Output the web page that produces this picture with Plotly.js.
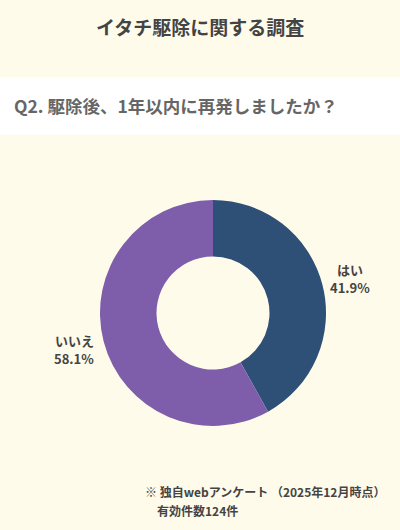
<!DOCTYPE html>
<html>
<head>
<meta charset="utf-8">
<script src="https://cdn.plot.ly/plotly-3.0.1.min.js"></script>
<style>
  html, body { margin: 0; padding: 0; background: #fffbeb; }
  #myDiv { width: 400px; height: 530px; }
</style>
</head>
<body>
<div id="myDiv"></div>
<script>
const answers = ['はい', 'いいえ']
const shares = [41.9, 58.1]
const sliceColors = ['#2e5077', '#7e5dab']
// label positions (pixels from top-left) next to each slice
const labelX = [350, 74]
const labelY = [269, 340]

const graphDiv = document.getElementById('myDiv')
const font = '"Noto Sans CJK JP", "Noto Sans", sans-serif'
const W = 400, H = 530

const donut = {
    type: 'pie',
    labels: answers,
    values: shares,
    hole: 0.5,
    sort: false,
    direction: 'clockwise',
    rotation: 0,
    textinfo: 'none',
    hoverinfo: 'label+percent',
    marker: {colors: sliceColors, line: {width: 0}},
    domain: {x: [100/W, 326/W], y: [1 - 426/H, 1 - 200/H]},
    showlegend: false,
}

function note(text, px, py, size, color, xanchor) {
    return {
        xref: 'paper', yref: 'paper',
        x: px / W, y: 1 - py / H,
        xanchor: xanchor || 'center', yanchor: 'middle',
        text: `<b>${text}</b>`,
        showarrow: false,
        font: {family: font, size: size, color: color},
    }
}

let notes = []
answers.forEach((a, i) => {
    notes.push(note(a, labelX[i], labelY[i], 13, '#444'))
    notes.push(note(shares[i].toFixed(1) + '%', labelX[i], labelY[i] + 18, 13, '#444'))
})
notes.push(note('イタチ駆除に関する調査', 200, 27, 19, '#444'))
notes.push(note('Q2. 駆除後、1年以内に再発しましたか？', 12, 105, 17.5, '#666', 'left'))
notes.push(note('※ 独自webアンケート （2025年12月時点）', 143, 491, 12, '#444', 'left'))
notes.push(note('有効件数124件', 155, 510, 12, '#444', 'left'))

const layout = {
    width: W,
    height: H,
    margin: {l: 0, r: 0, t: 0, b: 0, pad: 0},
    paper_bgcolor: '#fffbeb',
    plot_bgcolor: '#fffbeb',
    showlegend: false,
    annotations: notes,
    shapes: [{
        type: 'rect', xref: 'paper', yref: 'paper',
        x0: 0, x1: 1, y0: 1 - 135/H, y1: 1 - 77/H,
        fillcolor: '#ffffff', line: {width: 0}, layer: 'below',
    }],
}

Plotly.newPlot(graphDiv, [donut], layout, {displayModeBar: false, staticPlot: true})
</script>
</body>
</html>
